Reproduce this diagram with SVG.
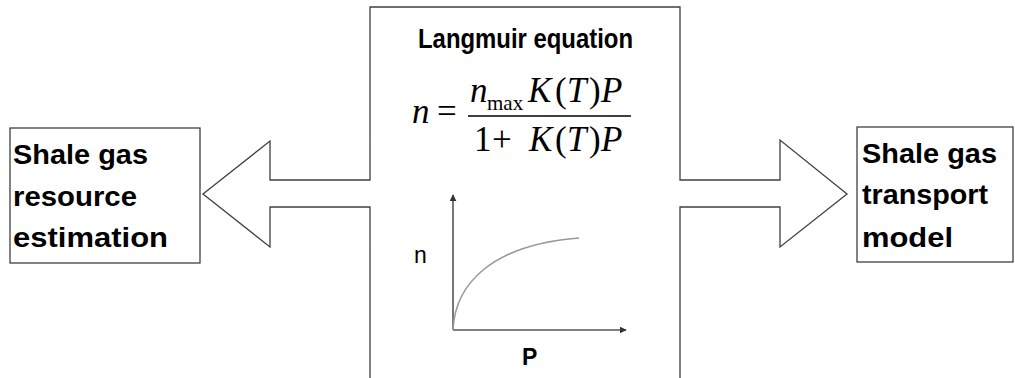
<svg xmlns="http://www.w3.org/2000/svg" width="1015" height="378" viewBox="0 0 1015 378">
<style>
.box{fill:#fff;stroke:#404040;stroke-width:1.3}
.lbl{font-family:"Liberation Sans",Arial,sans-serif;font-weight:bold;font-size:28px;fill:#000}
.math{font-family:"Liberation Serif","Times New Roman",serif;font-size:35px;fill:#000}
.it{font-style:italic}
.axis{stroke:#555;stroke-width:1.6;fill:none}
</style>
<defs>
<marker id="ah" viewBox="0 0 10 10" refX="9" refY="5" markerWidth="7" markerHeight="7" markerUnits="userSpaceOnUse" orient="auto">
<path d="M0,0 L10,5 L0,10 z" fill="#333"/>
</marker>
</defs>
<rect width="1015" height="378" fill="#fff"/>
<g id="connectors">
<path class="box" d="M370,379 L370,207 L270,207 L270,247 L203,194 L270,141 L270,180 L370,180 L370,7 L680,7 L680,180 L780,180 L780,140 L847,194 L780,247 L780,207 L680,207 L680,379"/>
</g>
<g id="node-center">
<text class="lbl" x="418" y="48" font-size="21" textLength="215" lengthAdjust="spacingAndGlyphs">Langmuir equation</text>
<text class="math" x="412" y="123"><tspan class="it">n</tspan><tspan x="437">=</tspan></text>
<line x1="468" y1="116" x2="631" y2="116" stroke="#000" stroke-width="1.3"/>
<text class="math" x="470" y="102"><tspan class="it">n</tspan><tspan x="487" y="110" font-size="21">max</tspan><tspan class="it" x="528" y="102">K</tspan><tspan x="555">(</tspan><tspan class="it" x="567">T</tspan><tspan x="589">)</tspan><tspan class="it" x="601">P</tspan></text>
<text class="math" x="474" y="151">1<tspan x="492">+</tspan><tspan class="it" x="529">K</tspan><tspan x="555">(</tspan><tspan class="it" x="567">T</tspan><tspan x="589">)</tspan><tspan class="it" x="601">P</tspan></text>
<line class="axis" x1="453" y1="330" x2="453" y2="195" marker-end="url(#ah)"/>
<line class="axis" x1="453" y1="330" x2="626" y2="330" marker-end="url(#ah)"/>
<path d="M453,330 C455,285 490,245 579,238" fill="none" stroke="#999" stroke-width="1.6"/>
<text x="414" y="263" font-family="Liberation Sans,Arial,sans-serif" font-size="23" fill="#000">n</text>
<text x="522" y="365" font-family="Liberation Sans,Arial,sans-serif" font-weight="bold" font-size="23" fill="#000">P</text>
</g>
<g id="node-left">
<rect class="box" x="10" y="128" width="190" height="135"/>
<text class="lbl" x="13" y="164" textLength="135" lengthAdjust="spacingAndGlyphs">Shale gas</text>
<text class="lbl" x="13" y="206" textLength="124" lengthAdjust="spacingAndGlyphs">resource</text>
<text class="lbl" x="13" y="247" textLength="155" lengthAdjust="spacingAndGlyphs">estimation</text>
</g>
<g id="node-right">
<rect class="box" x="857" y="127" width="156" height="135"/>
<text class="lbl" x="862" y="163" textLength="135" lengthAdjust="spacingAndGlyphs">Shale gas</text>
<text class="lbl" x="862" y="204" textLength="126" lengthAdjust="spacingAndGlyphs">transport</text>
<text class="lbl" x="862" y="247" textLength="91" lengthAdjust="spacingAndGlyphs">model</text>
</g>
</svg>
